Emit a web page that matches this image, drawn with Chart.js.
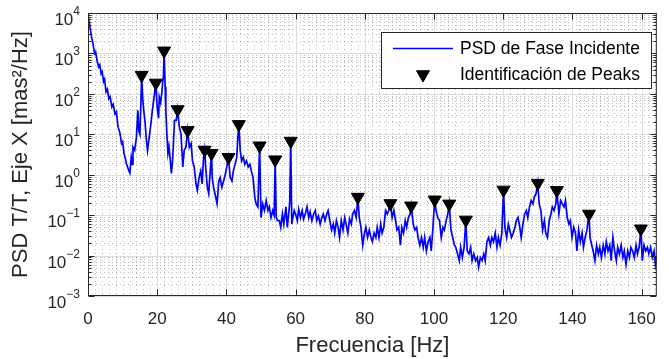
<!DOCTYPE html>
<html>
<head>
<meta charset="utf-8">
<script src="https://cdn.jsdelivr.net/npm/chart.js@4/dist/chart.umd.min.js"></script>
<style>
  html, body { margin: 0; padding: 0; background: #fff; }
  #wrap { width: 669px; height: 359px; }
</style>
</head>
<body>
<div id="wrap"><canvas id="psdChart" width="669" height="359"></canvas></div>
<script>
// frecuencia [Hz] y PSD [mas^2/Hz]
const freq = [
  0.0, 0.4, 0.7, 1.0, 1.4, 1.7, 1.9, 2.2, 2.6, 3.1,
  3.4, 3.8, 4.1, 4.5, 4.8, 5.2, 5.6, 6.0, 6.4, 6.9,
  7.3, 7.8, 8.2, 8.7, 9.2, 9.7, 10.0, 10.4, 10.8, 11.1,
  11.5, 11.8, 12.1, 12.5, 12.8, 13.0, 13.5, 14.0, 14.4, 14.7,
  15.0, 15.3, 15.5, 15.8, 16.1, 16.5, 16.8, 17.2, 17.7, 18.2,
  18.6, 19.1, 19.6, 19.9, 20.1, 20.4, 20.6, 21.0, 21.3, 21.6,
  21.8, 22.0, 22.3, 22.5, 22.8, 23.1, 23.4, 23.7, 24.1, 24.4,
  24.6, 25.0, 25.5, 25.9, 26.4, 26.9, 27.4, 27.8, 28.3, 28.8,
  29.3, 29.8, 30.2, 30.7, 31.2, 31.6, 32.1, 32.6, 33.0, 33.4,
  33.7, 34.0, 34.5, 34.9, 35.4, 35.7, 35.9, 36.3, 36.8, 37.3,
  37.8, 38.2, 38.7, 39.2, 39.7, 40.1, 40.6, 41.1, 41.6, 42.0,
  42.5, 43.0, 43.3, 43.6, 44.0, 44.4, 44.9, 45.3, 45.8, 46.3,
  46.8, 47.2, 47.7, 48.2, 48.6, 49.1, 49.6, 50.0, 50.5, 51.0,
  51.5, 52.0, 52.4, 52.9, 53.4, 53.8, 54.1, 54.4, 54.8, 55.3,
  55.7, 56.2, 56.6, 57.2, 57.6, 58.3, 58.6, 58.9, 59.2, 59.6,
  60.0, 60.5, 60.9, 61.4, 61.9, 62.3, 62.8, 63.3, 63.8, 64.2,
  64.7, 65.2, 65.7, 66.1, 66.6, 67.1, 67.6, 68.0, 68.5, 69.0,
  69.4, 69.9, 70.4, 70.9, 71.3, 71.8, 72.3, 72.7, 73.2, 73.7,
  74.2, 74.6, 75.1, 75.6, 76.1, 76.5, 77.0, 77.5, 78.0, 78.4,
  78.9, 79.4, 79.9, 80.3, 80.8, 81.3, 81.8, 82.2, 82.7, 83.2,
  83.6, 84.1, 84.6, 85.0, 85.5, 86.0, 86.5, 86.9, 87.4, 87.9,
  88.4, 88.9, 89.3, 89.8, 90.3, 90.7, 91.2, 91.7, 92.1, 92.6,
  93.1, 93.4, 94.0, 94.5, 95.0, 95.4, 95.9, 96.4, 96.9, 97.3,
  97.8, 98.3, 98.8, 99.2, 99.7, 100.2, 100.6, 101.1, 101.6, 102.1,
  102.6, 103.0, 103.5, 104.0, 104.4, 104.9, 105.4, 105.9, 106.3, 106.8,
  107.3, 107.7, 108.2, 108.7, 109.2, 109.6, 110.1, 110.6, 111.0, 111.5,
  112.0, 112.5, 112.9, 113.4, 113.9, 114.4, 114.8, 115.3, 115.8, 116.3,
  116.7, 117.2, 117.7, 118.2, 118.6, 119.1, 119.6, 120.1, 120.5, 121.0,
  121.5, 121.9, 122.4, 122.9, 123.4, 123.8, 124.3, 124.8, 125.2, 125.7,
  126.2, 126.7, 127.1, 127.6, 128.1, 128.6, 129.0, 129.5, 130.0, 130.4,
  130.9, 131.4, 131.9, 132.3, 132.8, 133.3, 133.8, 134.2, 134.7, 135.2,
  135.5, 136.1, 136.6, 137.1, 137.6, 138.0, 138.5, 139.0, 139.4, 139.9,
  140.4, 140.9, 141.3, 141.8, 142.3, 142.8, 143.2, 143.7, 144.2, 144.8,
  145.1, 145.6, 146.0, 146.5, 147.0, 147.5, 147.9, 148.4, 148.9, 149.4,
  149.8, 150.3, 150.8, 151.2, 151.7, 152.2, 152.7, 153.1, 153.6, 154.1,
  154.6, 155.0, 155.5, 156.0, 156.5, 156.9, 157.4, 157.9, 158.4, 158.8,
  159.3, 159.8, 160.2, 160.7, 161.2, 161.7, 162.1, 162.6, 163.1, 163.6,
  164.0, 164.4
];
const psd = [
  9000, 5500, 3800, 2600, 1800, 1300, 1000, 1100, 680, 465,
  520, 316, 350, 200, 230, 112, 130, 76, 85, 47,
  55, 32, 36, 15, 11, 5.9, 6.5, 3.4, 2.5, 1.9,
  1.5, 1.26, 1.1, 2.7, 1.8, 4.8, 4, 8.5, 39, 12,
  10, 60, 290, 80, 39, 20, 8.5, 4, 8.5, 18.6,
  39, 83, 186, 60, 39, 25, 83, 60, 100, 200,
  263, 1160, 150, 39, 10, 3.4, 5, 2.7, 1.07, 2,
  4, 22, 22, 41, 15, 10, 1.55, 4, 4.8, 12.5,
  4.8, 5.9, 2.2, 1.55, 0.59, 0.41, 0.85, 1.25, 0.59, 2.7,
  4.1, 1.55, 0.49, 0.34, 1.55, 3.4, 0.85, 0.49, 0.31, 0.19,
  0.7, 0.85, 0.49, 0.7, 1.05, 1.55, 2.7, 0.85, 0.7, 1.25,
  1.8, 2.7, 8, 17.6, 4, 2.2, 2.7, 1.8, 2.2, 1.55,
  1.8, 1.25, 0.85, 0.28, 0.19, 0.16, 5.2, 0.087, 0.19, 0.13,
  0.23, 0.13, 0.16, 0.087, 0.13, 0.1, 2.35, 0.09, 0.073, 0.073,
  0.05, 0.107, 0.06, 0.16, 0.05, 0.2, 6.8, 0.06, 0.087, 0.13,
  0.107, 0.073, 0.14, 0.087, 0.13, 0.08, 0.107, 0.16, 0.087, 0.12,
  0.073, 0.107, 0.13, 0.073, 0.095, 0.06, 0.087, 0.107, 0.073, 0.107,
  0.13, 0.073, 0.043, 0.06, 0.036, 0.073, 0.05, 0.028, 0.073, 0.043,
  0.087, 0.06, 0.036, 0.08, 0.06, 0.107, 0.13, 0.087, 0.28, 0.087,
  0.05, 0.018, 0.036, 0.05, 0.028, 0.043, 0.028, 0.022, 0.036, 0.028,
  0.05, 0.028, 0.06, 0.036, 0.05, 0.13, 0.107, 0.13, 0.195, 0.087,
  0.13, 0.073, 0.043, 0.05, 0.018, 0.05, 0.036, 0.073, 0.05, 0.087,
  0.107, 0.17, 0.06, 0.043, 0.05, 0.028, 0.018, 0.028, 0.016, 0.028,
  0.013, 0.022, 0.028, 0.013, 0.05, 0.24, 0.13, 0.087, 0.073, 0.028,
  0.05, 0.043, 0.073, 0.107, 0.19, 0.043, 0.028, 0.018, 0.016, 0.011,
  0.0075, 0.016, 0.009, 0.016, 0.076, 0.013, 0.011, 0.016, 0.0075, 0.011,
  0.0075, 0.009, 0.0052, 0.009, 0.0075, 0.011, 0.0075, 0.022, 0.028, 0.018,
  0.028, 0.022, 0.036, 0.016, 0.028, 0.018, 0.036, 0.42, 0.05, 0.028,
  0.06, 0.043, 0.028, 0.036, 0.05, 0.073, 0.087, 0.05, 0.028, 0.06,
  0.107, 0.13, 0.087, 0.16, 0.23, 0.19, 0.28, 0.34, 0.62, 0.19,
  0.13, 0.043, 0.073, 0.036, 0.028, 0.073, 0.107, 0.16, 0.13, 0.19,
  0.41, 0.107, 0.23, 0.19, 0.16, 0.23, 0.087, 0.06, 0.073, 0.028,
  0.05, 0.036, 0.013, 0.043, 0.022, 0.036, 0.016, 0.028, 0.043, 0.107,
  0.028, 0.018, 0.013, 0.0075, 0.018, 0.011, 0.016, 0.009, 0.018, 0.011,
  0.022, 0.013, 0.018, 0.0075, 0.028, 0.013, 0.0075, 0.016, 0.011, 0.018,
  0.009, 0.013, 0.006, 0.013, 0.009, 0.016, 0.013, 0.009, 0.018, 0.011,
  0.016, 0.046, 0.0075, 0.018, 0.013, 0.016, 0.011, 0.016, 0.009, 0.013,
  0.006, 0.01
];

// picos identificados
const peakFreq = [15.5, 19.6, 22.0, 25.9, 28.8, 33.7, 35.7, 40.6, 43.6, 49.6, 54.1, 58.6,
  78.0, 87.4, 93.4, 100.2, 104.4, 109.2, 120.1, 130.0, 135.5, 144.8, 159.8];
const peakPsd = [290, 186, 1160, 41, 12.5, 4.1, 3.4, 2.7, 17.6, 5.2, 2.35, 6.8,
  0.28, 0.195, 0.17, 0.24, 0.19, 0.076, 0.42, 0.62, 0.41, 0.107, 0.046];

const xTicks = [0, 20, 40, 60, 80, 100, 120, 140, 160];
const xMinorStep = 2;
const yExponents = [-3, -2, -1, 0, 1, 2, 3, 4];

const seriesNames = ["PSD de Fase Incidente", "Identificación de Peaks"];

const axisColor = "#262626";
const fontFamily = "'Liberation Sans', Arial, sans-serif";

function seg(ctx, x1, y1, x2, y2) {
  ctx.beginPath();
  ctx.moveTo(x1, y1);
  ctx.lineTo(x2, y2);
  ctx.stroke();
}

const matlabAxes = {
  id: "matlabAxes",
  beforeDatasetsDraw(chart) {
    const { ctx, chartArea: a, scales: { x, y } } = chart;
    ctx.save();
    ctx.lineWidth = 1;

    // rejilla menor punteada
    ctx.strokeStyle = "rgba(38,38,38,0.3)";
    ctx.setLineDash([1, 3]);
    for (let f = xMinorStep; f < x.max; f += xMinorStep) {
      if (xTicks.includes(f)) continue;
      const px = Math.round(x.getPixelForValue(f)) + 0.5;
      seg(ctx, px, a.top, px, a.bottom);
    }
    for (const e of yExponents) {
      for (let k = 2; k <= 9; k++) {
        const v = k * Math.pow(10, e);
        if (v >= y.max) continue;
        const py = Math.round(y.getPixelForValue(v)) + 0.5;
        seg(ctx, a.left, py, a.right, py);
      }
    }

    // rejilla mayor
    ctx.setLineDash([]);
    ctx.strokeStyle = "#dedede";
    for (const t of xTicks) {
      const px = Math.round(x.getPixelForValue(t)) + 0.5;
      seg(ctx, px, a.top, px, a.bottom);
    }
    for (const e of yExponents) {
      const py = Math.round(y.getPixelForValue(Math.pow(10, e))) + 0.5;
      seg(ctx, a.left, py, a.right, py);
    }
    ctx.restore();
  },
  afterDatasetsDraw(chart) {
    const { ctx, chartArea: a, scales: { x, y } } = chart;
    ctx.save();
    ctx.strokeStyle = axisColor;
    ctx.lineWidth = 1;
    const L = a.left + 0.5, R = a.right - 0.5, T = a.top + 0.5, B = a.bottom - 0.5;
    ctx.strokeRect(L, T, R - L, B - T);

    for (const t of xTicks) {
      const px = Math.round(x.getPixelForValue(t)) + 0.5;
      seg(ctx, px, B, px, B - 6);
      seg(ctx, px, T, px, T + 6);
    }
    for (const e of yExponents) {
      const py = Math.round(y.getPixelForValue(Math.pow(10, e))) + 0.5;
      seg(ctx, L, py, L + 6, py);
      seg(ctx, R, py, R - 6, py);
      for (let k = 2; k <= 9; k++) {
        const v = k * Math.pow(10, e);
        if (v >= y.max) continue;
        const pm = Math.round(y.getPixelForValue(v)) + 0.5;
        seg(ctx, L, pm, L + 3, pm);
        seg(ctx, R, pm, R - 3, pm);
      }
    }
    ctx.restore();
  },
  afterDraw(chart) {
    const { ctx, scales: { y } } = chart;
    ctx.save();

    // etiquetas del eje y: 10^n
    ctx.fillStyle = axisColor;
    ctx.textBaseline = "alphabetic";
    ctx.textAlign = "left";
    const rightEdge = 80;
    for (const e of yExponents) {
      const py = y.getPixelForValue(Math.pow(10, e));
      const expText = String(e).replace("-", "\u2212");
      ctx.font = "12px " + fontFamily;
      const ew = ctx.measureText(expText).width;
      ctx.font = "17px " + fontFamily;
      const bw = ctx.measureText("10").width;
      ctx.fillText("10", rightEdge - ew - bw, py + 12);
      ctx.font = "12px " + fontFamily;
      ctx.fillText(expText, rightEdge - ew, py + 2);
    }

    // leyenda
    const bx = 381.5, by = 32.5, bwid = 270, bh = 56;
    ctx.fillStyle = "#fff";
    ctx.fillRect(bx, by, bwid, bh);
    ctx.strokeStyle = axisColor;
    ctx.lineWidth = 1;
    ctx.strokeRect(bx, by, bwid, bh);

    ctx.strokeStyle = "#0000ff";
    ctx.lineWidth = 1.5;
    seg(ctx, 393, 48.5, 453, 48.5);

    ctx.fillStyle = "#000";
    ctx.strokeStyle = "#000";
    ctx.lineWidth = 1;
    Chart.helpers.drawPoint(ctx, { pointStyle: "triangle", rotation: 180, radius: 7.5, borderWidth: 1 }, 423, 74.5);

    ctx.font = "17.5px " + fontFamily;
    ctx.textBaseline = "middle";
    ctx.fillStyle = "#000";
    ctx.fillText(seriesNames[0], 460, 49);
    ctx.fillText(seriesNames[1], 460, 75);
    ctx.restore();
  }
};

const canvas = document.getElementById("psdChart");

new Chart(canvas, {
  type: "line",
  data: {
    datasets: [
      {
        label: seriesNames[1],
        data: peakFreq.map((f, i) => ({ x: f, y: peakPsd[i] })),
        showLine: false,
        pointStyle: "triangle",
        rotation: 180,
        pointRadius: 7.5,
        pointBackgroundColor: "#000",
        pointBorderColor: "#000",
        pointBorderWidth: 1,
        order: 0
      },
      {
        label: seriesNames[0],
        data: freq.map((f, i) => ({ x: f, y: psd[i] })),
        borderColor: "#0000ff",
        borderWidth: 1.7,
        pointRadius: 0,
        tension: 0,
        fill: false,
        order: 1
      }
    ]
  },
  options: {
    responsive: false,
    animation: false,
    devicePixelRatio: 1,
    layout: { padding: { top: 13, right: 1, left: 0, bottom: 0 } },
    plugins: {
      legend: { display: false },
      tooltip: { enabled: false }
    },
    scales: {
      x: {
        type: "linear",
        min: 0,
        max: 164.4,
        afterBuildTicks: s => { s.ticks = xTicks.map(v => ({ value: v })); },
        afterFit: s => { s.height = 63; },
        grid: { display: false, drawTicks: false },
        border: { display: false },
        ticks: {
          autoSkip: false,
          maxRotation: 0,
          padding: 13,
          color: axisColor,
          font: { family: fontFamily, size: 17 }
        },
        title: {
          display: true,
          text: "Frecuencia [Hz]",
          color: axisColor,
          font: { family: fontFamily, size: 22 },
          padding: { top: 1, bottom: 0 }
        }
      },
      y: {
        type: "logarithmic",
        min: 1e-3,
        max: 1e4,
        afterFit: s => { s.width = 88; },
        grid: { display: false, drawTicks: false },
        border: { display: false },
        ticks: { display: false },
        title: {
          display: true,
          text: "PSD T/T, Eje X [mas²/Hz]",
          color: axisColor,
          font: { family: fontFamily, size: 22 },
          padding: { top: 8, bottom: 0 }
        }
      }
    }
  },
  plugins: [matlabAxes]
});
</script>
</body>
</html>
